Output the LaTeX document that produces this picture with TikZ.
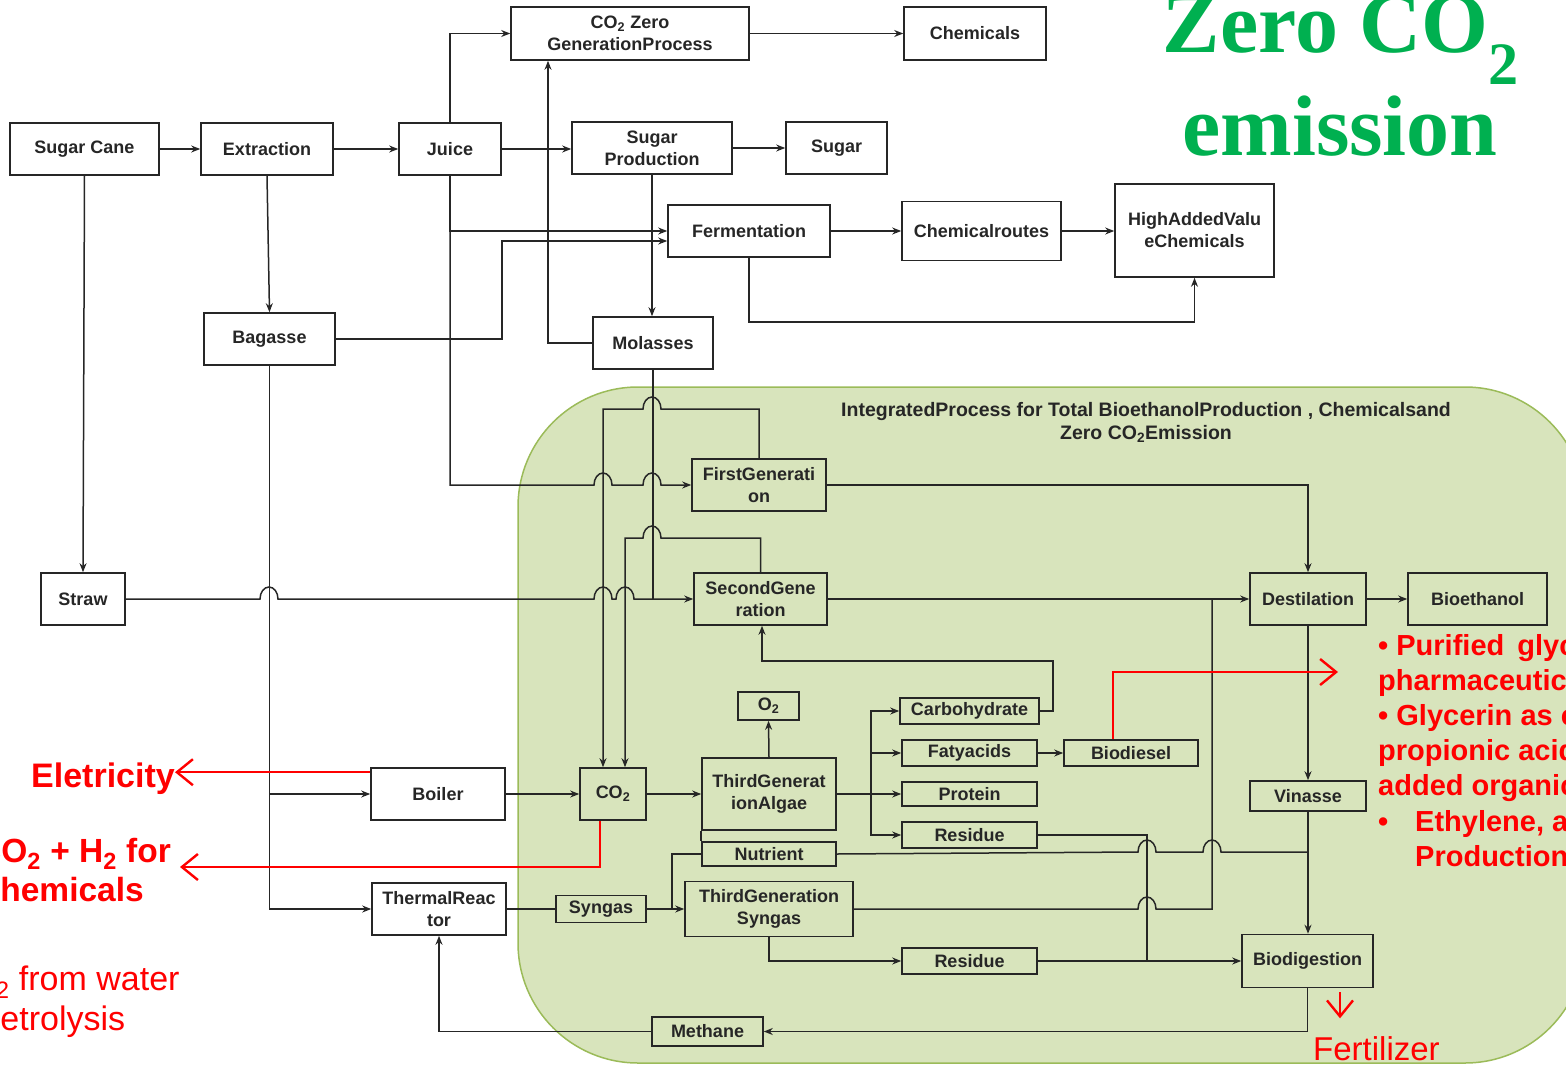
\documentclass[tikz,border=0pt]{standalone}
\usepackage{fontspec}
\setmainfont{Liberation Sans}
\newfontfamily\serifgreen{Liberation Serif}
\usetikzlibrary{arrows.meta}
\definecolor{gfill}{HTML}{D8E4BC}
\definecolor{gedge}{HTML}{9BBB59}
\definecolor{ink}{HTML}{262626}
\definecolor{zgreen}{HTML}{00B050}
\definecolor{rred}{HTML}{FF0000}
\begin{document}
\begin{tikzpicture}[x=1pt,y=1pt,
  box/.style={draw=ink, line width=1.6pt, inner sep=0pt, align=center, text=ink, font=\bfseries\fontsize{18}{22}\selectfont},
  conn/.style={draw=ink, line width=1.5pt},
  arr/.style={conn, -{Stealth[length=9pt,width=7pt]}},
  redarr/.style={draw=rred, line width=2.4pt, -{Straight Barb[length=16pt,width=26pt]}},
  redtxt/.style={text=rred, inner sep=0pt},
  hopup/.style={}]
\useasboundingbox (0,0) rectangle (1566,-1065);

% green region
\path[fill=gfill, draw=gedge, line width=1.5pt, rounded corners=120pt] (518,-387) rectangle (1585,-1063);

% big title
\node[anchor=base, text=zgreen, font=\serifgreen\bfseries\fontsize{86}{90}\selectfont] (t1) at (1341,-53) {Zero CO\textsubscript{2}};
\node[anchor=base, text=zgreen, font=\serifgreen\bfseries\fontsize{86}{90}\selectfont] (t2) at (1340,-155) {emission};

% region title
\node[font=\bfseries\fontsize{19.5}{23}\selectfont, text=ink, align=center] (ttl) at (1146,-422) {IntegratedProcess for Total BioethanolProduction , Chemicalsand\\Zero CO\textsubscript{2}Emission};

% boxes
\node[box, minimum width=149pt, minimum height=52pt] (sc) at (84.5,-149) {Sugar Cane};
\node[box, minimum width=132pt, minimum height=52pt] (ext) at (267,-149) {Extraction};
\node[box, minimum width=102pt, minimum height=52pt] (juice) at (450,-149) {Juice};
\node[box, minimum width=160pt, minimum height=52pt] (sp) at (652,-148) {Sugar\\Production};
\node[box, minimum width=101pt, minimum height=52pt] (sugar) at (836.5,-148) {Sugar};
\node[box, minimum width=238pt, minimum height=53pt] (czg) at (630,-33.5) {CO\textsubscript{2} Zero\\GenerationProcess};
\node[box, minimum width=142pt, minimum height=53pt] (chem) at (975,-33.5) {Chemicals};
\node[box, minimum width=162pt, minimum height=52pt] (ferm) at (749,-231) {Fermentation};
\node[box, minimum width=159pt, minimum height=59pt] (cr) at (981.5,-231) {Chemicalroutes};
\node[box, minimum width=159pt, minimum height=93pt] (hav) at (1194.5,-230.5) {HighAddedValu\\eChemicals};
\node[box, minimum width=131pt, minimum height=52pt] (bag) at (269.5,-339) {Bagasse};
\node[box, minimum width=120pt, minimum height=52pt] (mol) at (653,-343) {Molasses};
\node[box, minimum width=84pt, minimum height=52pt] (straw) at (83,-599) {Straw};
\node[box, minimum width=134pt, minimum height=52pt] (fg) at (759,-485) {FirstGenerati\\on};
\node[box, minimum width=133pt, minimum height=52pt] (sg) at (760.5,-599) {SecondGene\\ration};
\node[box, minimum width=116pt, minimum height=52pt] (dest) at (1308,-599) {Destilation};
\node[box, minimum width=139pt, minimum height=52pt] (bioeth) at (1477.5,-599) {Bioethanol};
\node[box, minimum width=61pt, minimum height=28pt] (o2) at (768.5,-706) {O\textsubscript{2}};
\node[box, minimum width=134pt, minimum height=72pt] (tga) at (769,-794) {ThirdGenerat\\ionAlgae};
\node[box, minimum width=134pt, minimum height=24pt] (nut) at (769,-854) {Nutrient};
\node[box, minimum width=139pt, minimum height=26pt] (carb) at (969.5,-711) {Carbohydrate};
\node[box, minimum width=135pt, minimum height=26pt] (fat) at (969.5,-753) {Fatyacids};
\node[box, minimum width=135pt, minimum height=24pt] (prot) at (969.5,-794) {Protein};
\node[box, minimum width=135pt, minimum height=26pt] (res1) at (969.5,-835) {Residue};
\node[box, minimum width=134pt, minimum height=26pt] (biod) at (1131,-753) {Biodiesel};
\node[box, minimum width=116pt, minimum height=30pt] (vin) at (1308,-796) {Vinasse};
\node[box, minimum width=134pt, minimum height=52pt] (boiler) at (438,-794) {Boiler};
\node[box, minimum width=66pt, minimum height=52pt] (co2) at (613,-794) {CO\textsubscript{2}};
\node[box, minimum width=134pt, minimum height=52pt] (tr) at (439,-909) {ThermalReac\\tor};
\node[box, minimum width=90pt, minimum height=27pt] (syn) at (601,-909) {Syngas};
\node[box, minimum width=168pt, minimum height=55pt] (tgs) at (769,-909) {ThirdGeneration\\Syngas};
\node[box, minimum width=135pt, minimum height=26pt] (res2) at (969.5,-961) {Residue};
\node[box, minimum width=131pt, minimum height=53pt] (bdg) at (1307.5,-961) {Biodigestion};
\node[box, minimum width=111pt, minimum height=29pt] (meth) at (707.5,-1031.5) {Methane};

% connectors top part
\draw[arr] (sc.east) -- (ext.west);
\draw[arr] (ext.east) -- (juice.west);
\draw[arr] (juice.east) -- (juice.east -| sp.west);
\draw[arr] (sp.east) -- (sp.east -| sugar.west);
\draw[arr] (juice.north) |- (czg.west);
\draw[arr] (czg.east) -- (czg.east -| chem.west);
\draw[arr] (mol.west) -| ([xshift=-82pt]czg.south);
\draw[arr] (sp.south) -- (sp.south |- mol.north);
\draw[arr] (juice.south) |- (ferm.west);
\coordinate (bj) at (502,-241);
\draw[arr] (bag.east) -| (bj) -- (bj -| ferm.west);
\draw[arr] (ext.south) -- (bag.north);
\draw[arr] (sc.south) -- (straw.north);
\draw[arr] (ferm.east) -- (ferm.east -| cr.west);
\draw[arr] (cr.east) -- (cr.east -| hav.west);
\draw[arr] (ferm.south) -- ++(0,-64) -| (hav.south);

% juice to first generation (hops)
\draw[arr] (juice.south) -- (450,-485) -- (594,-485)
  arc[start angle=180,end angle=0,x radius=9,y radius=12] -- (643,-485)
  arc[start angle=180,end angle=0,x radius=9,y radius=12] -- (fg.west);
% straw to second generation (hops)
\draw[arr] (straw.east) -- (260,-599)
  arc[start angle=180,end angle=0,x radius=9,y radius=12] -- (594,-599)
  arc[start angle=180,end angle=0,x radius=9,y radius=12] -- (616,-599)
  arc[start angle=180,end angle=0,x radius=9,y radius=12] -- (sg.west);
\draw[conn] (mol.south) -- (mol.south |- sg.west);
% loops to CO2
\draw[arr] (fg.north) |- (661,-409)
  arc[start angle=0,end angle=180,x radius=9,y radius=12] -- (603,-409) -- ([xshift=-10pt]co2.north);
\draw[arr] (sg.north) |- (661,-538)
  arc[start angle=0,end angle=180,x radius=9,y radius=12] -- (625,-538) -- ([xshift=12pt]co2.north);

\draw[arr] (fg.east) -| (dest.north);
\draw[arr] (sg.east) -- (sg.east -| dest.west);
\draw[arr] (dest.east) -- (bioeth.west);
\draw[arr] (dest.south) -- (vin.north);
\draw[arr] (vin.south) -- (vin.south |- bdg.north);

% nutrient
\draw[conn] (nut.east) -- (1138,-852)
  arc[start angle=180,end angle=0,x radius=9,y radius=12] -- (1203,-852)
  arc[start angle=180,end angle=0,x radius=9,y radius=12] -- (vin.south |- 0,-852);
\draw[conn] (nut.west) -| (672,-909);
\draw[conn] (tga.south west) -- (nut.north west);

\draw[conn] (res1.east) -| (1147,-961);
\draw[arr] (res2.east) -- (res2.east -| bdg.west);
\draw[arr] (tgs.south) |- (res2.west);
\draw[conn] (tgs.east) -- (1138,-909)
  arc[start angle=180,end angle=0,x radius=9,y radius=12] -- (1212,-909) -- (1212,-599);
\draw[arr] (bdg.south) |- (meth.east);
\draw[arr] (meth.west) -| (tr.south);
\draw[arr] (bag.south) |- (tr.west);
\draw[arr] (bag.south |- boiler.west) -- (boiler.west);
\draw[conn] (tr.east) -- (syn.west);
\draw[arr] (syn.east) -- (syn.east -| tgs.west);
\draw[arr] (boiler.east) -- (co2.west);
\draw[arr] (co2.east) -- (tga.west);
\draw[arr] (tga.north) -- (o2.south);
\coordinate (br) at (871,-794);
\draw[conn] (tga.east) -- (br);
\draw[arr] (br) |- (carb.west);
\draw[arr] (br) |- (res1.west);
\draw[arr] (br) -- (prot.west);
\draw[arr] (br |- fat.west) -- (fat.west);
\draw[arr] (fat.east) -- (biod.west);
\draw[arr] (carb.east) -| (1053,-661) -| ([xshift=1.5pt]sg.south);

% red texts
\node[redtxt, anchor=base east, font=\bfseries\fontsize{34}{40}\selectfont] (elec) at (175,-787) {Eletricity};
\node[redtxt, anchor=base west, font=\bfseries\fontsize{33.5}{40}\selectfont] (coh) at (-23,-862) {CO\textsubscript{2} + H\textsubscript{2} for};
\node[redtxt, anchor=base west, font=\bfseries\fontsize{33.5}{40}\selectfont] (chm) at (-24,-901) {Chemicals};
\node[redtxt, anchor=base west, font=\fontsize{34}{40}\selectfont] (hw) at (-29,-990) {H\textsubscript{2} from water};
\node[redtxt, anchor=base west, font=\fontsize{34}{40}\selectfont] (el) at (-30,-1030) {Eletrolysis};
\node[redtxt, anchor=base west, font=\fontsize{33}{40}\selectfont] (fert) at (1313,-1060) {Fertilizer};
\node[redtxt, anchor=base west, font=\bfseries\fontsize{29}{35}\selectfont] (b1) at (1378,-655) {• Purified\hspace{13pt}glycerin for};
\node[redtxt, anchor=base west, font=\bfseries\fontsize{29}{35}\selectfont] (b2) at (1378,-690) {pharmaceutical};
\node[redtxt, anchor=base west, font=\bfseries\fontsize{29}{35}\selectfont] (b3) at (1378,-725) {• Glycerin as carbon};
\node[redtxt, anchor=base west, font=\bfseries\fontsize{29}{35}\selectfont] (b4) at (1378,-760) {propionic acid};
\node[redtxt, anchor=base west, font=\bfseries\fontsize{29}{35}\selectfont] (b5) at (1378,-795) {added organic};
\node[redtxt, anchor=base west, font=\bfseries\fontsize{29}{35}\selectfont] (b6) at (1378,-831) {\makebox[37pt][l]{•}Ethylene, and};
\node[redtxt, anchor=base west, font=\bfseries\fontsize{29}{35}\selectfont] (b7) at (1415,-866) {Production};

% red arrows
\draw[redarr] ([yshift=-5pt]boiler.north west) -- ([yshift=-5pt]boiler.north west -| elec.east);
\coordinate (cohend) at (180,-867);
\draw[redarr] ([xshift=-13pt]co2.south) |- (cohend);
\coordinate (glyend) at (1338,-672);
\draw[redarr] ([xshift=-18pt]biod.north) |- (glyend);
\draw[redarr] ([xshift=32.5pt,yshift=-4pt]bdg.south) -- ++(0,-26);
\end{tikzpicture}
\end{document}
